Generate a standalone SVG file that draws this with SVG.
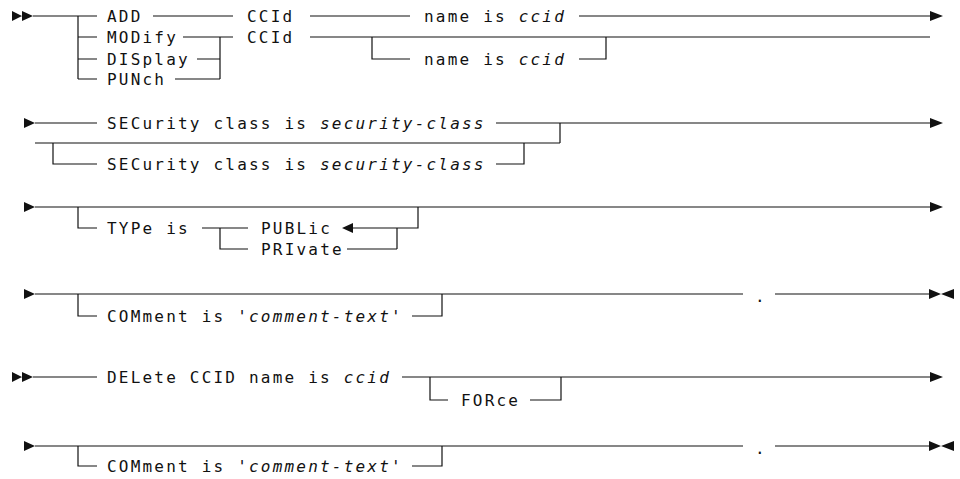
<svg xmlns="http://www.w3.org/2000/svg" width="960" height="479" viewBox="0 0 960 479">
<style>
text{font-family:"DejaVu Sans Mono","Liberation Mono",monospace;font-size:16px;letter-spacing:2.2px;fill:#111}
.i{font-style:italic}
.ln{fill:none;stroke:#111;stroke-width:1.2}
.ah{fill:#111;stroke:none}
</style>
<rect width="960" height="479" fill="#fff"/>
<g id="connectors">
<!-- row 1 -->
<path class="ln" d="M33 16H97M78 16V79M78 37H97M78 59H97M78 79H97M153 16H233M310 16H410M579 16H930"/>
<path class="ln" d="M183 37H233M220 37V79M197 59H220M175 79H220M310 37H930M372 37V59H410M579 59H606V37"/>
<path class="ah" d="M12 11L22 16L12 21ZM22 11L33 16L22 21ZM930 11L943 16L930 21Z"/>
<!-- row 2 -->
<path class="ln" d="M35 123H97M496 123H930M560 123V143M35 143H560M53 143V164H97M496 164H524V143"/>
<path class="ah" d="M24 118L35 123L24 128ZM930 118L943 123L930 128Z"/>
<!-- row 3 -->
<path class="ln" d="M35 207H930M78 207V228H97M202 228H248M220 228V249H248M353 228H418V207M397 228V249M347 249H397"/>
<path class="ah" d="M24 202L35 207L24 212ZM930 202L943 207L930 212ZM342 228L353 223L353 233Z"/>
<!-- row 4 -->
<path class="ln" d="M35 294H743M775 294H929M78 294V316H97M412 316H442V294"/>
<path class="ah" d="M24 289L35 294L24 299ZM929 289L941 294L929 299ZM954 289L941 294L954 299Z"/>
<!-- row 5 -->
<path class="ln" d="M33 377H97M402 377H930M430 377V400H448M530 400H561V377"/>
<path class="ah" d="M12 372L22 377L12 382ZM22 372L33 377L22 382ZM930 372L943 377L930 382Z"/>
<!-- row 6 -->
<path class="ln" d="M35 446H743M775 446H929M78 446V466H97M412 466H442V446"/>
<path class="ah" d="M24 441L35 446L24 451ZM929 441L941 446L929 451ZM954 441L941 446L954 451Z"/>
</g>
<g id="n-add"><text x="107" y="22">ADD</text></g>
<g id="n-modify"><text x="107" y="43">MODify</text></g>
<g id="n-display"><text x="107" y="65">DISplay</text></g>
<g id="n-punch"><text x="107" y="85">PUNch</text></g>
<g id="n-ccid1"><text x="247" y="22">CCId</text></g>
<g id="n-ccid2"><text x="247" y="43">CCId</text></g>
<g id="n-name1"><text x="424" y="22">name is <tspan class="i">ccid</tspan></text></g>
<g id="n-name2"><text x="424" y="65">name is <tspan class="i">ccid</tspan></text></g>
<g id="n-sec1"><text x="107" y="129">SECurity class is <tspan class="i">security-class</tspan></text></g>
<g id="n-sec2"><text x="107" y="170">SECurity class is <tspan class="i">security-class</tspan></text></g>
<g id="n-type"><text x="107" y="234">TYPe is</text></g>
<g id="n-public"><text x="261" y="234">PUBLic</text></g>
<g id="n-private"><text x="261" y="255">PRIvate</text></g>
<g id="n-comment1"><text x="107" y="322">COMment is '<tspan class="i">comment-text</tspan>'</text></g>
<g id="n-dot1"><text x="755" y="302">.</text></g>
<g id="n-delete"><text x="107" y="383">DELete CCID name is <tspan class="i">ccid</tspan></text></g>
<g id="n-force"><text x="461" y="406">FORce</text></g>
<g id="n-comment2"><text x="107" y="472">COMment is '<tspan class="i">comment-text</tspan>'</text></g>
<g id="n-dot2"><text x="755" y="454">.</text></g>
</svg>
